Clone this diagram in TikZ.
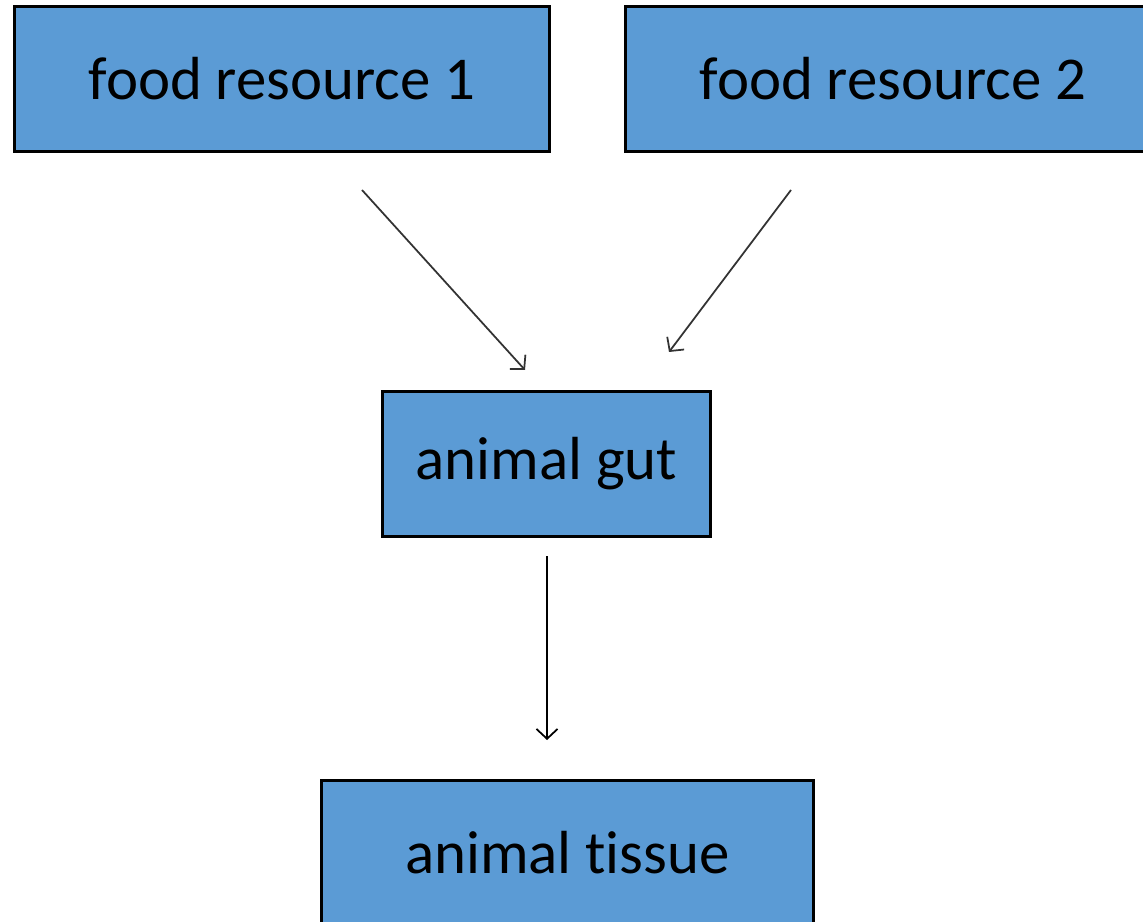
\documentclass[tikz,border=0pt]{standalone}
\usepackage{fontspec}
\setmainfont[Ligatures=NoCommon]{Carlito}
\usepackage{tikz}
\usetikzlibrary{arrows.meta}
\definecolor{boxblue}{HTML}{5B9BD5}
\tikzset{
  stagebox/.style={draw=black,line width=0.85pt,fill=boxblue,inner sep=0pt,
    font=\fontsize{17.3}{20}\selectfont,text=black},
  flow/.style={line width=0.5pt,-{Straight Barb[length=2.8pt,width=6pt]}}
}
\begin{document}
\begin{tikzpicture}[x=0.01cm,y=-0.01cm]
\useasboundingbox[fill=white] (0,0) rectangle (1143,922);
\node[stagebox,minimum width=5.34cm,minimum height=1.44cm] (food1) at (282,79) {food resource 1};
\node[stagebox,minimum width=5.34cm,minimum height=1.44cm] (food2) at (893,79) {food resource 2};
\node[stagebox,minimum width=3.27cm,minimum height=1.44cm] (gut) at (546.5,464) {animal gut};
\node[stagebox,minimum width=4.91cm,minimum height=1.44cm] (tissue) at (567.5,853) {animal tissue};
% arrow ends sit apart from the boxes
\coordinate (food1out) at (362,190);
\coordinate (gutin1) at (525,370);
\coordinate (food2out) at (791,190);
\coordinate (gutin2) at (669,352);
\coordinate (gutout) at (547,556);
\coordinate (tissuein) at (547,740);
\draw[flow,black!80] (food1out) -- (gutin1);
\draw[flow,black!80] (food2out) -- (gutin2);
\draw[flow] (gutout) -- (tissuein);
\end{tikzpicture}
\end{document}
